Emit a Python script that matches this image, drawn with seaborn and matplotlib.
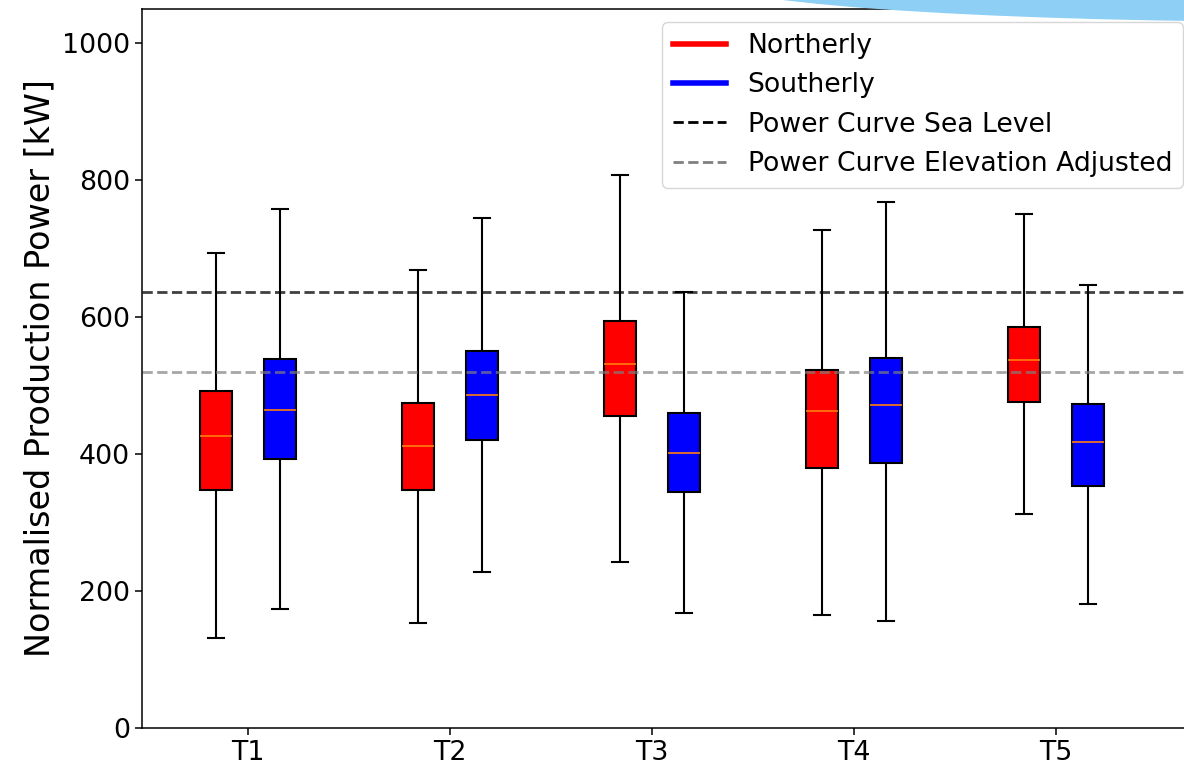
import pandas as pd
import matplotlib
matplotlib.use('Agg')
import matplotlib.pyplot as plt
import seaborn as sns
from matplotlib.lines import Line2D
from matplotlib.patches import Ellipse

turbines = ['T1', 'T2', 'T3', 'T4', 'T5']
# five-number summaries: whisker low, Q1, median, Q3, whisker high
northerly = [
    [131, 347, 426, 492, 694],
    [153, 347, 412, 475, 669],
    [242, 455, 531, 594, 807],
    [165, 380, 463, 523, 727],
    [313, 476, 537, 586, 751],
]
southerly = [
    [174, 393, 464, 539, 758],
    [228, 420, 487, 550, 745],
    [168, 345, 401, 460, 636],
    [156, 387, 471, 540, 768],
    [181, 354, 418, 473, 647],
]
sea_level = 636.5
elev_adjusted = 519.5

rows = []
for t, n, s in zip(turbines, northerly, southerly):
    for v in n:
        rows.append((t, 'Northerly', v))
    for v in s:
        rows.append((t, 'Southerly', v))
df = pd.DataFrame(rows, columns=['turbine', 'direction', 'power'])

plt.rcParams['font.size'] = 19.3
plt.rcParams['axes.linewidth'] = 1.1

fig = plt.figure(figsize=(11.84, 7.69), dpi=100)
ax = fig.add_axes([142 / 1184, 41 / 769, (1196 - 142) / 1184, 719 / 769])

sns.boxplot(data=df, x='turbine', y='power', hue='direction',
            palette={'Northerly': 'red', 'Southerly': 'blue'},
            width=0.64, gap=0.5, whis=(0, 100), saturation=1,
            linecolor='black', linewidth=1.5,
            medianprops=dict(color='#ff7f0e', linewidth=1.2),
            legend=False, ax=ax)

ax.axhline(sea_level, color='k', ls='--', lw=2, alpha=0.75)
ax.axhline(elev_adjusted, color='gray', ls='--', lw=2, alpha=0.7)

ax.set_xlim(-0.5248, 4.693)
ax.set_ylim(0, 1050)
ax.set_yticks([0, 200, 400, 600, 800, 1000])
ax.set_xlabel('')
ax.set_ylabel('Normalised Production Power [kW]', fontsize=24)
ax.spines['right'].set_visible(False)
ax.tick_params(length=5, width=1.1)

handles = [
    Line2D([], [], color='red', lw=4),
    Line2D([], [], color='blue', lw=4),
    Line2D([], [], color='black', ls='--', lw=2),
    Line2D([], [], color='gray', ls='--', lw=2),
]
labels = ['Northerly', 'Southerly', 'Power Curve Sea Level', 'Power Curve Elevation Adjusted']
ax.legend(handles, labels, loc='upper right', fontsize=19.2)

# the light blue shape in the top right corner of the screenshot
fig.patches.append(Ellipse((13.0, 7.92), 12.0, 0.88, color='#8ecff5',
                           transform=fig.dpi_scale_trans, zorder=10))

fig.savefig('out.png', dpi=100)
